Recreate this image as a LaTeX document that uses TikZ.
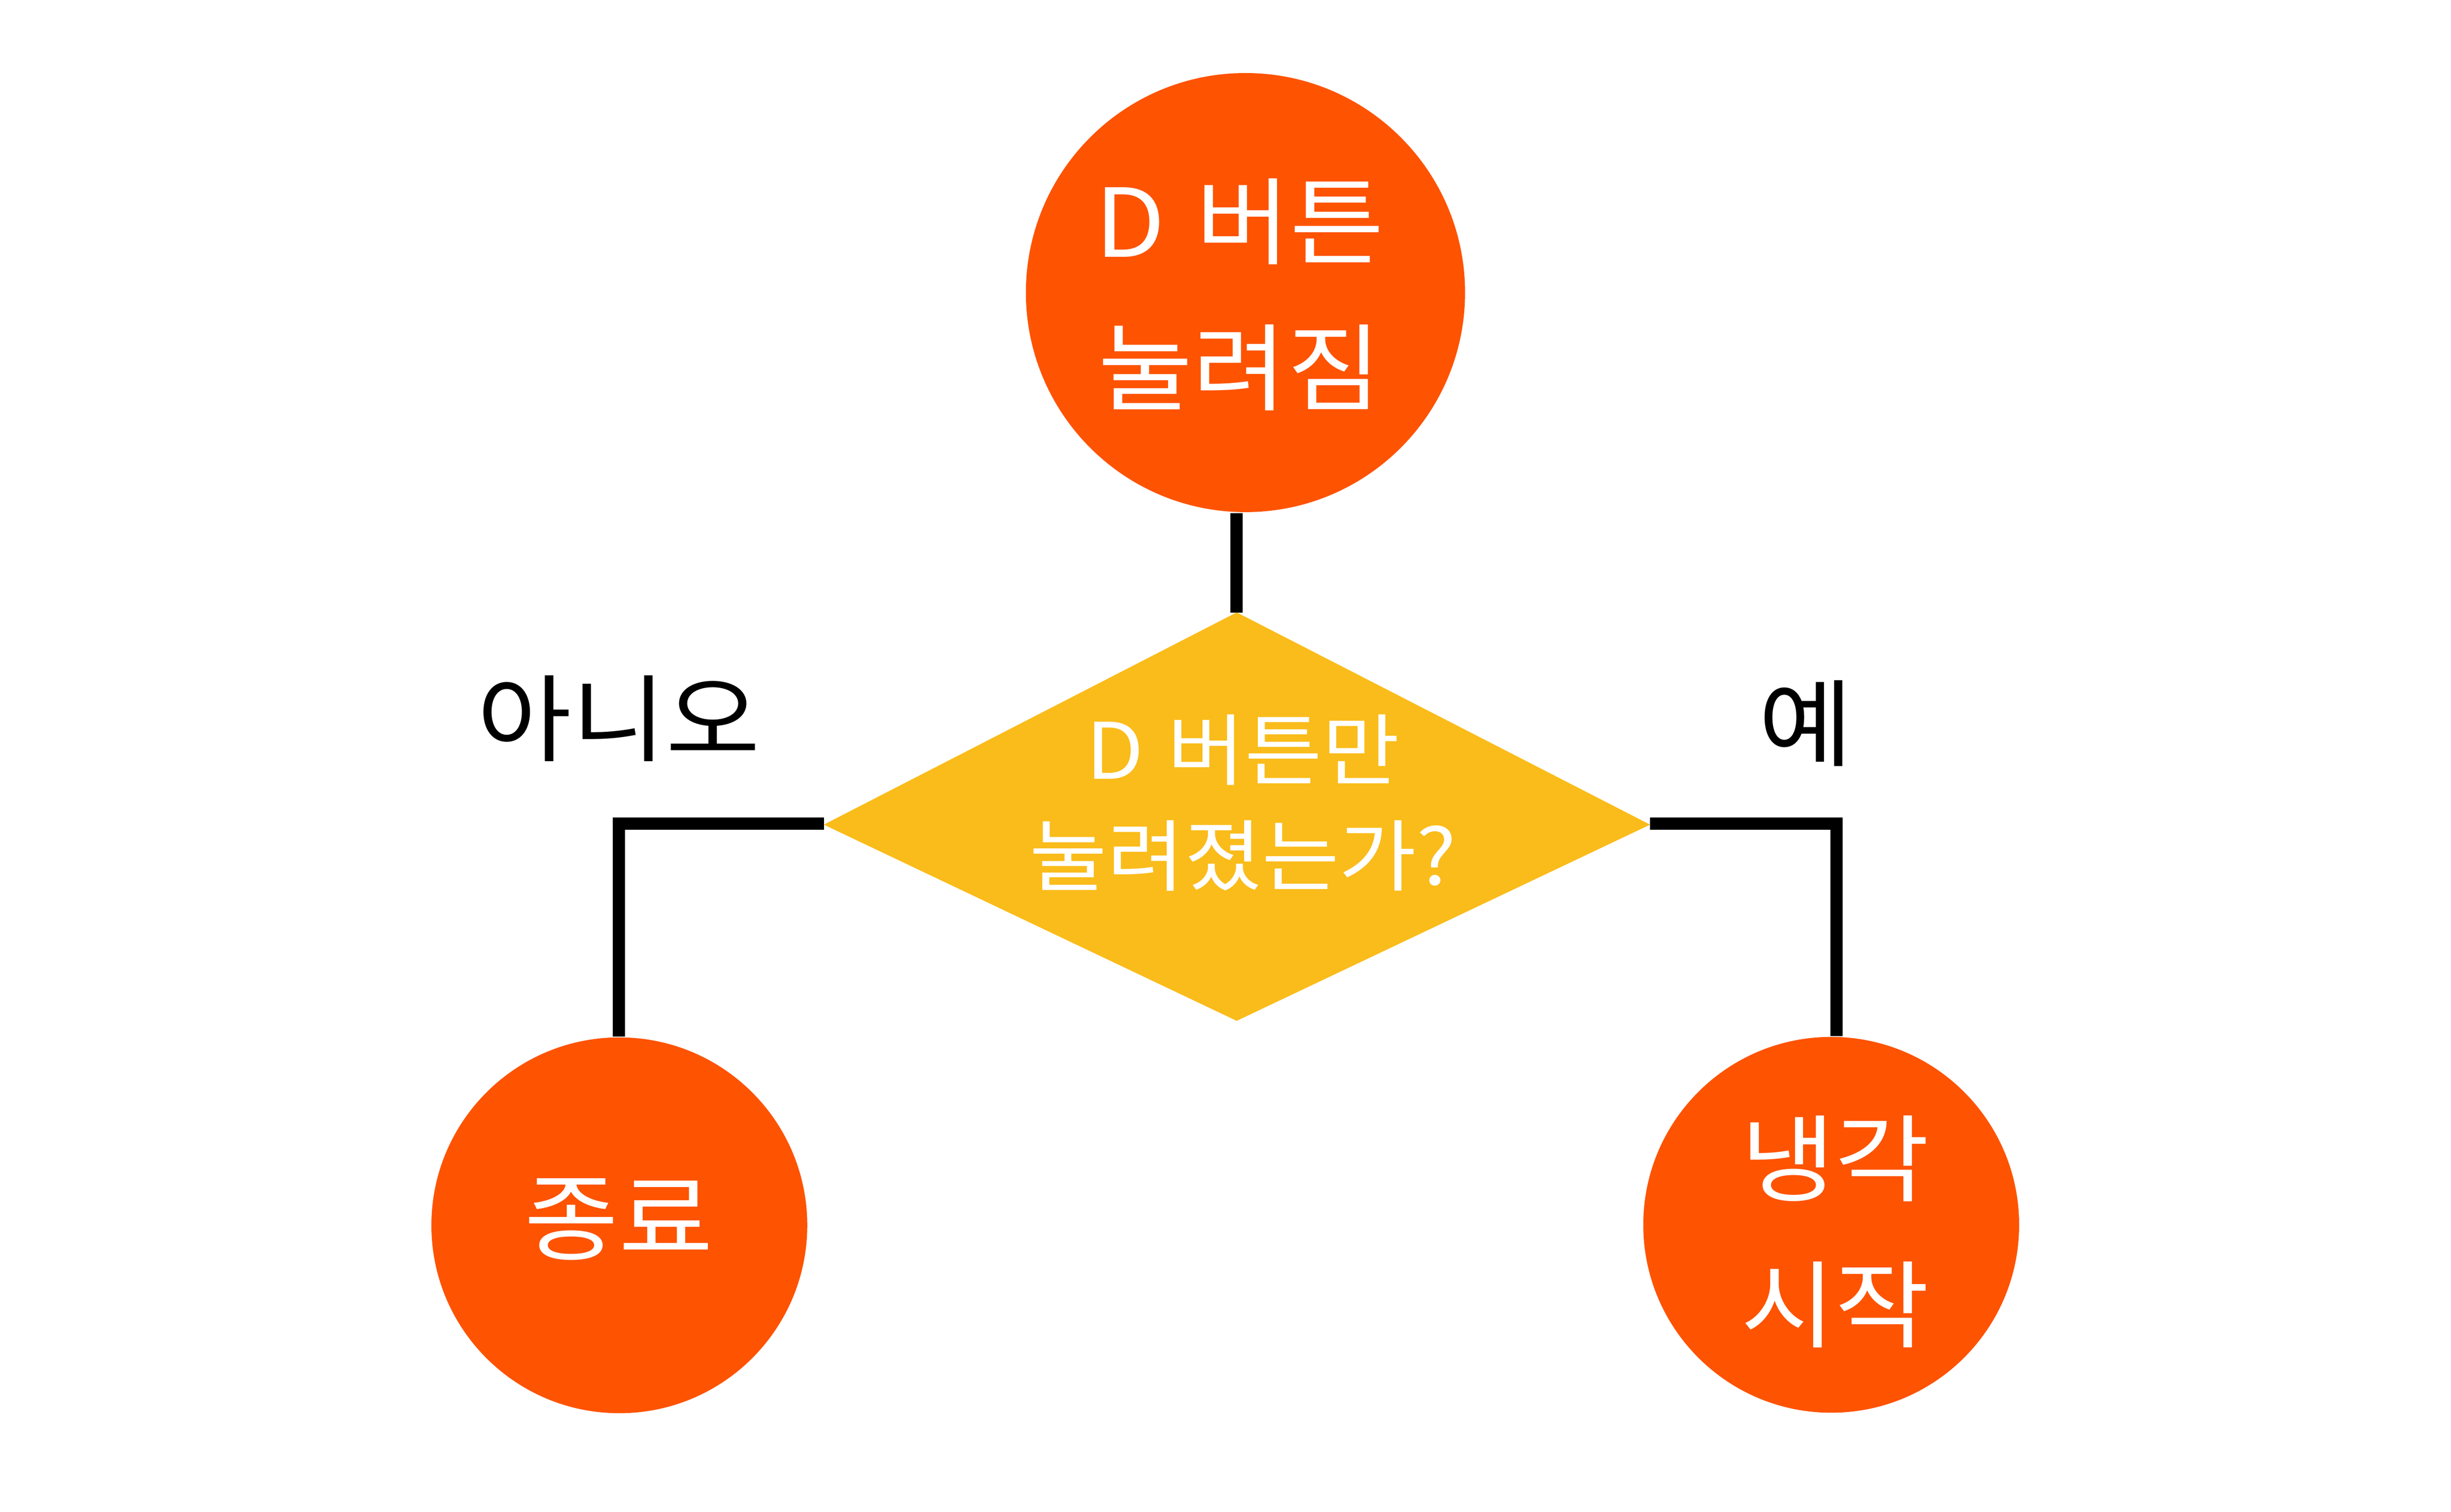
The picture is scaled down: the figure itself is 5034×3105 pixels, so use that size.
\documentclass[tikz,border=0pt]{standalone}
\usepackage{fontspec}
\setmainfont[FakeStretch=1.08]{Noto Sans CJK KR}
\definecolor{fcorange}{HTML}{FE5300}
\definecolor{fcyellow}{HTML}{FABC1A}
\begin{document}
\begin{tikzpicture}[x=0.1pt,y=-0.1pt,
  circ/.style={circle,fill=fcorange,inner sep=0pt,draw=none},
  bigtxt/.style={text=white,align=center,inner sep=0pt,font=\fontsize{19.5}{30}\selectfont},
  dtxt/.style={text=white,align=center,inner sep=0pt,font=\fontsize{16}{21.7}\selectfont},
  lbl/.style={text=black,inner sep=0pt,font=\fontsize{19.5}{30}\selectfont},
  conn/.style={draw=black,line width=2.5pt}]
\useasboundingbox (0,0) rectangle (5034,3105);
% circles
\node[circ,minimum size=90.2pt] (start) at (2558,601) {};
\node[circ,minimum size=77.2pt] (stop) at (1272,2517) {};
\node[circ,minimum size=77.2pt] (cool) at (3761,2516) {};
% diamond vertices
\coordinate (dtop) at (2540,1258);
\coordinate (dright) at (3389,1694);
\coordinate (dbottom) at (2540,2097);
\coordinate (dleft) at (1692,1694);
\coordinate (lturn) at (1271,1692);
\coordinate (rturn) at (3772,1692);
% connectors
\draw[conn] (start.south -| dtop) -- (dtop);
\draw[conn] (dleft |- lturn) -- (lturn) -- (lturn |- stop.north);
\draw[conn] (dright |- rturn) -- (rturn) -- (rturn |- cool.north);
% diamond
\fill[fcyellow] (dtop) -- (dright) -- (dbottom) -- (dleft) -- cycle;
% texts
\node[bigtxt] (starttxt) at (2546,605) {D\hspace{0.08em} 버튼\\눌려짐};
\node[dtxt] (dtext) at (2553,1649) {D\hspace{0.06em} 버튼만\\눌려졌는가?};
\node[bigtxt] (stoptxt) at (1271,2505) {종료};
\node[bigtxt] (cooltxt) at (3769,2530) {냉각\\시작};
\node[lbl] (no) at (1271,1476) {아니오};
\node[lbl] (yes) at (3709,1486) {예};
\end{tikzpicture}
\end{document}
